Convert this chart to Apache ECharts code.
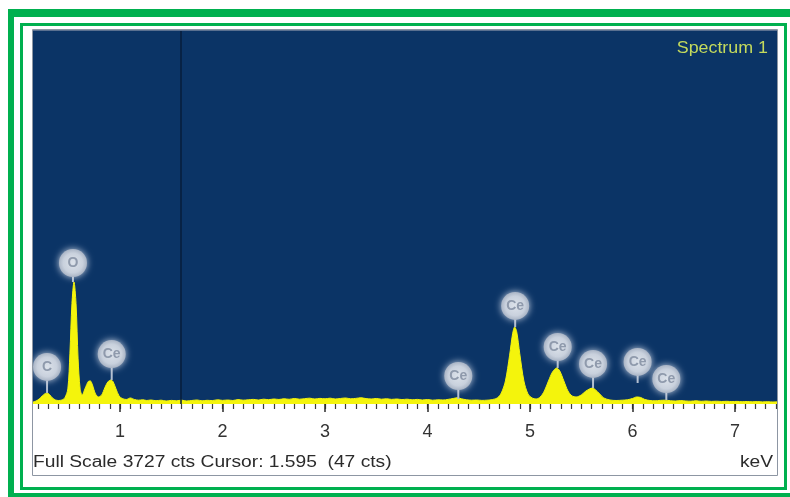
<!DOCTYPE html>
<html>
<head>
<meta charset="utf-8">
<script src="https://cdn.jsdelivr.net/npm/echarts@6/dist/echarts.min.js"></script>
<style>
html,body{margin:0;padding:0;background:#fff;}
#chart{width:790px;height:497px;}
</style>
</head>
<body>
<div id="chart"></div>
<script>
// Spectrum: energy (keV) and counts
const energy = [
  0.15,0.18,0.21,0.24,0.27,0.29,0.31,0.34,0.37,0.40,0.43,0.46,0.49,0.51,0.53,0.55,0.57,0.59,0.61,0.63,
  0.66,0.69,0.71,0.73,0.76,0.79,0.82,0.85,0.88,0.91,0.93,0.96,0.99,1.02,1.06,
  1.10,1.14,1.18,1.22,1.26,1.30,1.35,1.40,1.45,1.50,1.55,1.60,1.65,1.70,1.75,1.80,1.85,1.90,1.95,2.00,
  2.05,2.10,2.15,2.20,2.25,2.30,2.35,2.40,2.45,2.50,2.55,2.60,2.65,2.70,2.75,2.80,2.85,2.90,2.95,3.00,
  3.05,3.10,3.15,3.20,3.25,3.30,3.35,3.40,3.45,3.50,3.55,3.60,3.65,3.70,3.75,3.80,3.85,3.90,3.95,4.00,
  4.05,4.10,4.15,4.20,4.25,4.29,4.33,4.38,4.43,4.48,4.53,4.58,4.62,
  4.68,4.72,4.76,4.80,4.83,4.85,4.87,4.90,4.94,4.98,5.02,5.06,5.10,5.14,5.18,5.22,5.26,5.29,5.33,5.37,
  5.41,5.45,5.50,5.54,5.58,5.61,5.64,5.68,5.72,5.78,
  5.84,5.90,5.95,6.00,6.04,6.08,6.12,6.17,6.22,6.27,6.32,6.37,6.42,6.47,6.52,6.57,6.62,6.67,6.72,6.77,
  6.82,6.87,6.92,6.97,7.02,7.07,7.12,7.17,7.22,7.27,7.32,7.37,7.41
];
const counts = [
  20,30,50,80,105,110,95,60,40,35,40,60,150,500,1000,1216,1000,450,150,90,
  160,225,230,190,100,70,90,160,220,239,225,150,80,55,45,
  60,45,38,42,35,40,33,38,30,36,32,38,30,35,40,32,37,34,42,36,
  40,35,44,38,42,46,40,48,43,50,45,52,47,55,48,53,58,50,56,52,
  58,50,55,60,52,56,62,54,50,55,48,52,46,50,44,48,42,46,40,44,
  38,42,40,46,55,62,52,42,38,40,36,38,42,
  60,110,230,480,700,767,720,500,230,100,60,50,70,130,230,320,359,330,230,130,
  80,70,90,125,150,159,140,100,60,40,
  35,38,42,55,70,65,45,35,32,36,38,33,30,34,30,28,32,27,30,26,
  28,25,27,24,26,23,25,22,24,21,23,20,22
];

// Element labels: energy, peak-top counts (stem end), label-centre counts, text
const labelEnergy = [0.287, 0.54, 0.918, 4.30, 4.855, 5.27, 5.615, 6.05, 6.33];
const labelStemCounts = [110, 1216, 239, 50, 767, 359, 159, 209, 40];
const labelCenterCounts = [369, 1405, 498, 279, 977, 568, 399, 419, 249];
const labelNames = ['C', 'O', 'Ce', 'Ce', 'Ce', 'Ce', 'Ce', 'Ce', 'Ce'];

// Axis ticks
const majorTicks = [1, 2, 3, 4, 5, 6, 7];
const minorTicks = [0.2,0.3,0.4,0.5,0.6,0.7,0.8,0.9,1.0,1.1,1.2,1.3,1.4,1.5,1.6,1.7,1.8,1.9,2.0,
  2.1,2.2,2.3,2.4,2.5,2.6,2.7,2.8,2.9,3.0,3.1,3.2,3.3,3.4,3.5,3.6,3.7,3.8,3.9,4.0,
  4.1,4.2,4.3,4.4,4.5,4.6,4.7,4.8,4.9,5.0,5.1,5.2,5.3,5.4,5.5,5.6,5.7,5.8,5.9,6.0,
  6.1,6.2,6.3,6.4,6.5,6.6,6.7,6.8,6.9,7.0,7.1,7.2,7.3,7.4];

const fullScale = 3727;
const cursorKeV = 1.595;
const titleText = 'Spectrum 1';
const footerText = 'Full Scale 3727 cts Cursor: 1.595  (47 cts)';
const unitText = 'keV';

const spectrum = energy.map((e, i) => [e, counts[i]]);
const labelData = labelEnergy.map((e, i) => [e, labelStemCounts[i], labelCenterCounts[i], labelNames[i]]);

const X_MIN = 0.15, X_MAX = 7.41;
const chart = echarts.init(document.getElementById('chart'));
const FONT = 'Liberation Sans, Arial, sans-serif';

chart.setOption({
  backgroundColor: '#ffffff',
  animation: false,
  grid: {
    left: 33, right: 13, top: 30, bottom: 93,
    show: true, backgroundColor: '#0b3466', borderWidth: 0
  },
  xAxis: [
    {
      type: 'value', min: X_MIN, max: X_MAX, position: 'bottom',
      axisLine: { show: false },
      splitLine: { show: false },
      axisTick: { show: true, customValues: minorTicks, length: 5, inside: false,
        lineStyle: { color: '#3a3a3a', width: 1.2 } },
      axisLabel: { show: false }
    },
    {
      type: 'value', min: X_MIN, max: X_MAX, position: 'bottom',
      axisLine: { show: false },
      splitLine: { show: false },
      axisTick: { show: true, customValues: majorTicks, length: 8,
        lineStyle: { color: '#2a2a2a', width: 1.5 } },
      axisLabel: { show: true, customValues: majorTicks, margin: 19,
        color: '#333333', fontSize: 18, fontFamily: FONT,
        formatter: v => String(v) }
    }
  ],
  yAxis: {
    type: 'value', min: 0, max: fullScale, show: false
  },
  series: [
    {
      type: 'line',
      data: spectrum,
      xAxisIndex: 0,
      showSymbol: false,
      smooth: 0.3,
      lineStyle: { color: '#f4f40c', width: 1 },
      areaStyle: { color: '#f4f40c', opacity: 1 },
      markLine: {
        silent: true,
        symbol: ['none', 'none'],
        label: { show: false },
        lineStyle: { color: '#071d3b', width: 1.5, type: 'solid' },
        data: [{ xAxis: cursorKeV }]
      },
      z: 2
    },
    {
      type: 'custom',
      xAxisIndex: 0,
      data: labelData,
      encode: { x: 0, y: 2 },
      z: 5,
      renderItem: function (params, api) {
        const x = api.value(0);
        const pStem = api.coord([x, api.value(1)]);
        const pC = api.coord([x, api.value(2)]);
        const r = 14;
        return {
          type: 'group',
          children: [
            {
              type: 'line',
              shape: { x1: pC[0], y1: pC[1] + r - 2, x2: pStem[0], y2: pStem[1] },
              style: { stroke: '#b3bfd0', lineWidth: 2 }
            },
            {
              type: 'circle',
              shape: { cx: pC[0], cy: pC[1], r: r },
              style: {
                fill: new echarts.graphic.RadialGradient(0.5, 0.5, 0.5, [
                  { offset: 0, color: '#dce2ea' },
                  { offset: 0.7, color: '#c9d1dd' },
                  { offset: 1, color: '#a9b4c5' }
                ]),
                shadowBlur: 7,
                shadowColor: 'rgba(215,222,235,0.9)'
              }
            },
            {
              type: 'text',
              x: pC[0], y: pC[1],
              style: {
                text: api.value(3),
                fill: '#8f9aac',
                font: 'bold 14px ' + FONT,
                textAlign: 'center',
                textVerticalAlign: 'middle'
              }
            }
          ]
        };
      }
    }
  ],
  graphic: [
    // outer thick green frame
    { type: 'rect', shape: { x: 8, y: 9, width: 800, height: 500 }, style: { fill: '#00b04f' }, z: -10, silent: true },
    { type: 'rect', shape: { x: 14, y: 17, width: 800, height: 476 }, style: { fill: '#ffffff' }, z: -9, silent: true },
    // inner thin green frame
    { type: 'rect', shape: { x: 21.5, y: 24.5, width: 764, height: 464 }, style: { fill: 'none', stroke: '#00b04f', lineWidth: 3 }, z: -8, silent: true },
    // panel frame
    { type: 'rect', shape: { x: 32.5, y: 29.5, width: 745, height: 446 }, style: { fill: 'none', stroke: '#8d96a3', lineWidth: 1 }, z: 10, silent: true },
    { type: 'line', shape: { x1: 33, y1: 30.5, x2: 777, y2: 30.5 }, style: { stroke: '#5a7090', lineWidth: 1 }, z: 10, silent: true },
    {
      type: 'text', x: 768, y: 48, scaleX: 1.05, z: 10, silent: true,
      style: { text: titleText, fill: '#c4da5c', font: '17px ' + FONT, textAlign: 'right', textVerticalAlign: 'middle' }
    },
    {
      type: 'text', x: 33, y: 463, scaleX: 1.2, z: 10, silent: true,
      style: { text: footerText, fill: '#2b2b2b', font: '16px ' + FONT, textAlign: 'left', textVerticalAlign: 'middle' }
    },
    {
      type: 'text', x: 773, y: 463, scaleX: 1.2, z: 10, silent: true,
      style: { text: unitText, fill: '#2b2b2b', font: '16px ' + FONT, textAlign: 'right', textVerticalAlign: 'middle' }
    }
  ]
});
</script>
</body>
</html>
